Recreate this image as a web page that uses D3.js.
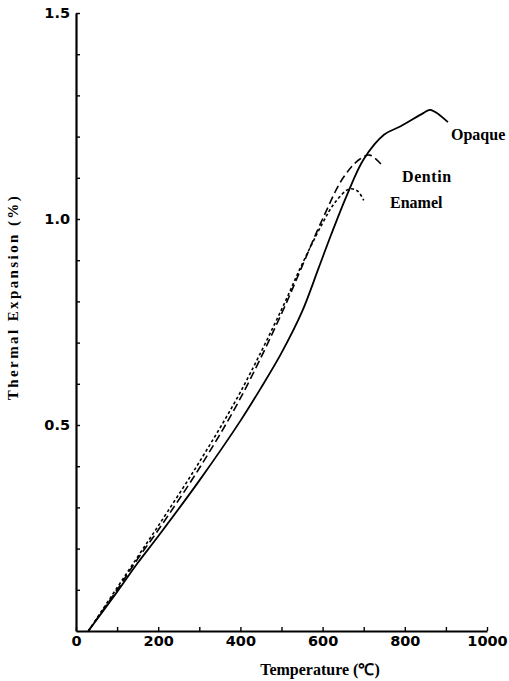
<!DOCTYPE html>
<html>
<head>
<meta charset="utf-8">
<script src="https://cdn.jsdelivr.net/npm/d3@7"></script>
<style>
  body { margin: 0; background: #fff; }
  svg { display: block; }
  .tick text { font-family: "DejaVu Sans", sans-serif; font-weight: bold; font-size: 14.5px; fill: #000; }
  .lbl { font-family: "Liberation Serif", serif; font-weight: bold; fill: #000; }
</style>
</head>
<body>
<svg width="509" height="681"></svg>
<script>
// temperature (C) and thermal expansion (%)
const opaqueT = [30, 100, 150, 200, 300, 400, 450, 500, 550, 590, 620, 660, 700, 750, 790, 845, 862, 905]
const opaqueV = [0, 0.095, 0.165, 0.23, 0.365, 0.51, 0.59, 0.675, 0.775, 0.88, 0.96, 1.06, 1.145, 1.205, 1.225, 1.257, 1.265, 1.235]

const dentinT = [30, 100, 150, 200, 300, 400, 500, 550, 600, 650, 690, 715, 745]
const dentinV = [0, 0.10, 0.175, 0.245, 0.395, 0.565, 0.77, 0.885, 1.0, 1.10, 1.145, 1.155, 1.13]

const enamelT = [30, 100, 150, 200, 300, 400, 500, 550, 600, 630, 665, 685, 700]
const enamelV = [0, 0.105, 0.18, 0.255, 0.41, 0.58, 0.78, 0.89, 0.99, 1.04, 1.073, 1.068, 1.045]

const xTicks = [0, 100, 200, 300, 400, 500, 600, 700, 800, 900, 1000]
const yTicks = [0.1, 0.2, 0.3, 0.4, 0.5, 0.6, 0.7, 0.8, 0.9, 1.0, 1.1, 1.2, 1.3, 1.4, 1.5]

const svg = d3.select('svg')

const x = d3.scaleLinear().domain([0, 1000]).range([76, 487])
const y = d3.scaleLinear().domain([0, 1.5]).range([631, 13])

const line = d3.line()
    .x(d => x(d[0]))
    .y(d => y(d[1]))
    .curve(d3.curveCatmullRom.alpha(0.5))

function pts(t, v) { return t.map((d, i) => [d, v[i]]) }

// curves
svg.append('path')
    .attr('d', line(pts(opaqueT, opaqueV)))
    .attr('fill', 'none').attr('stroke', '#000').attr('stroke-width', 1.8)
svg.append('path')
    .attr('d', line(pts(dentinT, dentinV)))
    .attr('fill', 'none').attr('stroke', '#000').attr('stroke-width', 1.6)
    .attr('stroke-dasharray', '8,4')
svg.append('path')
    .attr('d', line(pts(enamelT, enamelV)))
    .attr('fill', 'none').attr('stroke', '#000').attr('stroke-width', 1.6)
    .attr('stroke-dasharray', '3,2.5')

// axes
const xAxis = d3.axisBottom(x)
    .tickValues(xTicks)
    .tickSizeInner(-4).tickSizeOuter(0)
    .tickPadding(5)
    .tickFormat(d => d % 200 === 0 ? d : '')
const gx = svg.append('g').attr('transform', 'translate(0,631)').call(xAxis)
gx.select('.domain').attr('stroke-width', 2.2)
gx.selectAll('.tick line').attr('stroke-width', 1.4)

const yAxis = d3.axisLeft(y)
    .tickValues(yTicks)
    .tickSizeInner(-4).tickSizeOuter(0)
    .tickPadding(6)
    .tickFormat(d => (Math.abs(d * 2 - Math.round(d * 2)) < 1e-6) ? d3.format('.1f')(d) : '')
const gy = svg.append('g').attr('transform', 'translate(76,0)').call(yAxis)
gy.select('.domain').attr('stroke-width', 2.2)
gy.selectAll('.tick line').attr('stroke-width', 1.4)

// curve labels
svg.append('text').attr('class', 'lbl').attr('x', 451).attr('y', 140)
    .style('font-size', '16px').text('Opaque')
svg.append('text').attr('class', 'lbl').attr('x', 402).attr('y', 182)
    .style('font-size', '16px').style('letter-spacing', '0.6px').text('Dentin')
svg.append('text').attr('class', 'lbl').attr('x', 390).attr('y', 208)
    .style('font-size', '16px').text('Enamel')

// axis titles
svg.append('text').attr('class', 'lbl')
    .attr('x', 320).attr('y', 675)
    .attr('text-anchor', 'middle')
    .style('font-size', '16px')
    .text('Temperature (℃)')

svg.append('text').attr('class', 'lbl')
    .attr('transform', 'translate(18,297) rotate(-90)')
    .attr('text-anchor', 'middle')
    .style('font-size', '15px')
    .style('letter-spacing', '2.4px')
    .text('Thermal Expansion (%)')
</script>
</body>
</html>
